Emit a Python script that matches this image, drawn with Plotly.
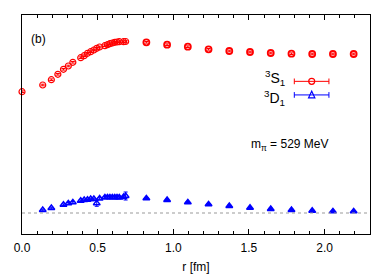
import plotly.graph_objects as go

# ---- data (y in arbitrary units, dotted line = 0) ----
r_S1 = [0.000, 0.137, 0.194, 0.237, 0.274, 0.306, 0.336, 0.388, 0.411, 0.433,
        0.454, 0.475, 0.494, 0.513, 0.548, 0.565, 0.581, 0.597, 0.613, 0.628,
        0.643, 0.671, 0.685,
        0.822, 0.959, 1.096, 1.233, 1.370, 1.507, 1.644, 1.781, 1.918, 2.055, 2.192]
u_S1 = [1.213, 1.280, 1.333, 1.387, 1.437, 1.470, 1.507, 1.553, 1.573, 1.597,
        1.613, 1.630, 1.647, 1.660, 1.673, 1.683, 1.693, 1.700, 1.707, 1.710,
        1.713, 1.713, 1.715,
        1.707, 1.683, 1.663, 1.637, 1.620, 1.610, 1.600, 1.593, 1.590, 1.590, 1.590]
e_S1 = [0.008] * len(r_S1)

r_D1 = [0.137, 0.194, 0.274, 0.306, 0.336, 0.388, 0.411, 0.433, 0.454, 0.475,
        0.494, 0.513, 0.548, 0.565, 0.581, 0.597, 0.613, 0.628, 0.643, 0.671,
        0.685,
        0.822, 0.959, 1.096, 1.233, 1.370, 1.507, 1.644, 1.781, 1.918, 2.055, 2.192]
u_D1 = [0.030, 0.050, 0.083, 0.097, 0.107, 0.123, 0.130, 0.133, 0.140, 0.140,
        0.097, 0.145, 0.157, 0.157, 0.157, 0.157, 0.157, 0.157, 0.155, 0.160,
        0.170,
        0.147, 0.130, 0.107, 0.087, 0.070, 0.053, 0.040, 0.030, 0.023, 0.017, 0.017]
e_D1 = [0.008, 0.008, 0.008, 0.008, 0.008, 0.008, 0.008, 0.008, 0.008, 0.008,
        0.030, 0.008, 0.008, 0.008, 0.008, 0.008, 0.008, 0.008, 0.008, 0.008,
        0.040,
        0.008, 0.008, 0.008, 0.008, 0.008, 0.008, 0.008, 0.008, 0.008, 0.008, 0.008]

x_ticks = [0.0, 0.5, 1.0, 1.5, 2.0]
x_range = [0.0, 2.3]
y_range = [-0.21, 1.98]

RED = "#ff0000"
BLUE = "#0000ff"
FONT = "Liberation Sans, Arial, sans-serif"

# dense (off-axis) points drawn open, on-axis points drawn solid-looking
d1_symbols = ["triangle-up-open" if r < 0.75 else "triangle-up" for r in r_D1]
s1_widths = [1.2 if r < 0.75 else 1.8 for r in r_S1]

fig = go.Figure()
fig.add_trace(go.Scatter(
    x=r_S1, y=u_S1, mode="markers",
    marker=dict(symbol="circle-open", size=6, color=RED, line=dict(width=s1_widths, color=RED)),
    error_y=dict(type="data", array=e_S1, color=RED, thickness=1, width=2),
    showlegend=False, cliponaxis=False))
fig.add_trace(go.Scatter(
    x=r_D1, y=u_D1, mode="markers",
    marker=dict(symbol=d1_symbols, size=6, color=BLUE, line=dict(width=1.4, color=BLUE)),
    error_y=dict(type="data", array=e_D1, color=BLUE, thickness=1, width=2),
    showlegend=False))

shapes = [
    # dotted zero line
    dict(type="line", xref="paper", yref="y", x0=0, x1=1, y0=0, y1=0,
         line=dict(color="#999999", width=1, dash="dot")),
]
# manual legend samples (line with caps + marker)
for yl, col in [(0.697, RED), (0.635, BLUE)]:
    shapes.append(dict(type="line", xref="paper", yref="paper", x0=0.7825, x1=0.882,
                       y0=yl, y1=yl, line=dict(color=col, width=1)))
    for xc in (0.7825, 0.882):
        shapes.append(dict(type="line", xref="paper", yref="paper", x0=xc, x1=xc,
                           y0=yl - 0.013, y1=yl + 0.013, line=dict(color=col, width=1)))
# legend markers
shapes.append(dict(type="circle", xref="paper", yref="paper",
                   x0=0.8325 - 0.0086, x1=0.8325 + 0.0086, y0=0.697 - 0.0137, y1=0.697 + 0.0137,
                   line=dict(color=RED, width=1.2)))
shapes.append(dict(type="path", xref="paper", yref="paper",
                   path="M 0.8235 0.622 L 0.8415 0.622 L 0.8325 0.652 Z",
                   line=dict(color=BLUE, width=1.2)))

annotations = [
    dict(text="<sup>3</sup>S<sub>1</sub>", xref="paper", yref="paper", x=0.762, y=0.712,
         xanchor="right", yanchor="middle", showarrow=False,
         font=dict(size=14, color="black", family=FONT)),
    dict(text="<sup>3</sup>D<sub>1</sub>", xref="paper", yref="paper", x=0.762, y=0.622,
         xanchor="right", yanchor="middle", showarrow=False,
         font=dict(size=14, color="black", family=FONT)),
    dict(text="m<sub>π</sub> = 529 MeV", xref="paper", yref="paper", x=0.77, y=0.406,
         xanchor="center", yanchor="middle", showarrow=False,
         font=dict(size=12, color="black", family=FONT)),
    dict(text="(b)", xref="paper", yref="paper", x=0.02, y=0.89,
         xanchor="left", yanchor="middle", showarrow=False,
         font=dict(size=12, color="black", family=FONT)),
]

# page body has an 8px margin, so the figure is shrunk/shifted to compensate
fig.update_layout(
    width=384, height=266,
    margin=dict(l=14, r=22, t=7, b=40, autoexpand=False),
    paper_bgcolor="white", plot_bgcolor="white",
    font=dict(family=FONT, size=12, color="black"),
    shapes=shapes, annotations=annotations,
    xaxis=dict(range=x_range, tickvals=x_ticks, ticktext=[f"{v:.1f}" for v in x_ticks],
               ticks="inside", ticklen=5, tickcolor="black", tickwidth=1,
               minor=dict(dtick=0.1, ticks="inside", ticklen=3, tickcolor="black"),
               showline=True, linecolor="black", linewidth=1, mirror="ticks",
               showgrid=False, zeroline=False, automargin=False,
               ticklabelstandoff=3,
               title=dict(text="r [fm]", standoff=9, font=dict(size=12)),
               tickfont=dict(size=12)),
    yaxis=dict(range=y_range, showticklabels=False, ticks="", automargin=False,
               showline=True, linecolor="black", linewidth=1, mirror=True,
               showgrid=False, zeroline=False),
)

fig.write_html("out.html")
